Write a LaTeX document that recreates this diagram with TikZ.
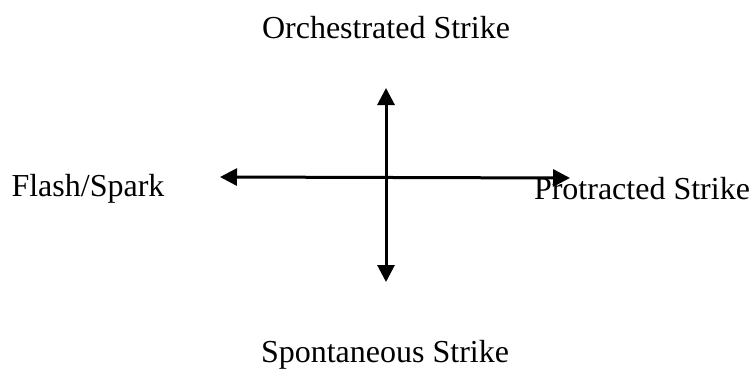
\documentclass[tikz,border=0pt]{standalone}
\usepackage{fontspec}
\setmainfont{Liberation Serif}
\usetikzlibrary{arrows.meta}
\tikzset{
  axlabel/.style={font=\fontsize{32}{36}\selectfont, inner sep=0pt},
  axarr/.style={{Triangle[length=17pt,width=17pt]}-{Triangle[length=17pt,width=17pt]}, line width=3pt, black},
}
\begin{document}
\begin{tikzpicture}[x=1pt,y=-1pt]
  \useasboundingbox (0,0) rectangle (751,370);
  % axis labels
  \node[axlabel](orch) at (386,28){Orchestrated Strike};
  \node[axlabel](flash) at (88,189){Flash/Spark};
  \node[axlabel](prot) at (642,189){Protracted Strike};
  \node[axlabel](spon) at (385,355){Spontaneous Strike};
  % axis ends
  \coordinate (west) at (220,177);
  \coordinate (east) at (570,178);
  \coordinate (north) at (386,88);
  \coordinate (south) at (386,282);
  \draw[axarr](west)--(east);
  \draw[axarr](north)--(south);
\end{tikzpicture}
\end{document}
